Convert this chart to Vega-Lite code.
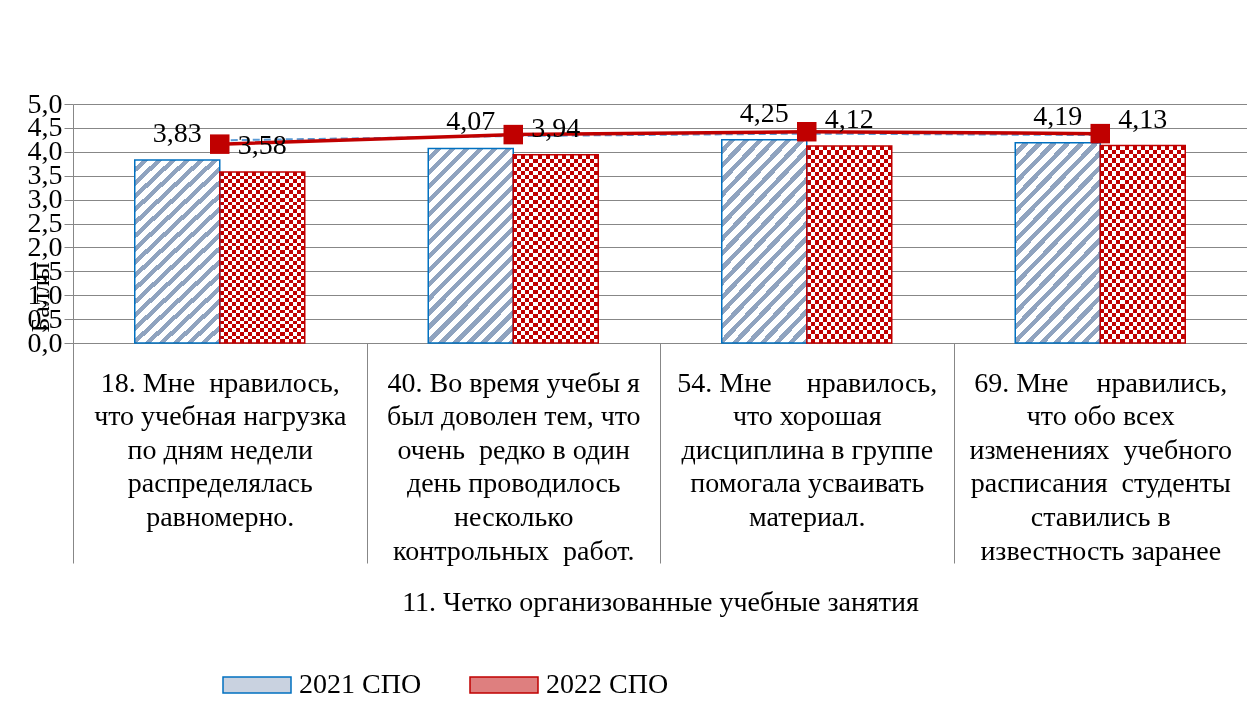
{
"$schema": "https://vega.github.io/schema/vega-lite/v6.json",
"width": 1174,
"height": 239,
"autosize": {"type": "none"},
"padding": {"left": 73, "top": 104, "right": 0, "bottom": 385},
"background": "#ffffff",
"config": {
  "locale": {"number": {"decimal": ",", "thousands": " ", "grouping": [3], "currency": ["", ""]}},
  "view": {"stroke": null},
  "font": "Liberation Serif"
},
"data": {"values": [
  {"q": "18. Мне\u00a0\u00a0нравилось,|что учебная нагрузка|по дням недели|распределялась|равномерно.", "year": "2021 СПО", "v": 3.83, "line": 4.24},
  {"q": "18. Мне\u00a0\u00a0нравилось,|что учебная нагрузка|по дням недели|распределялась|равномерно.", "year": "2022 СПО", "v": 3.58, "line": 4.16},
  {"q": "40. Во время учебы я|был доволен тем, что|очень\u00a0\u00a0редко в один|день проводилось|несколько|контрольных\u00a0\u00a0работ.", "year": "2021 СПО", "v": 4.07, "line": 4.33},
  {"q": "40. Во время учебы я|был доволен тем, что|очень\u00a0\u00a0редко в один|день проводилось|несколько|контрольных\u00a0\u00a0работ.", "year": "2022 СПО", "v": 3.94, "line": 4.36},
  {"q": "54. Мне\u00a0\u00a0\u00a0\u00a0\u00a0нравилось,|что хорошая|дисциплина в группе|помогала усваивать|материал.", "year": "2021 СПО", "v": 4.25, "line": 4.38},
  {"q": "54. Мне\u00a0\u00a0\u00a0\u00a0\u00a0нравилось,|что хорошая|дисциплина в группе|помогала усваивать|материал.", "year": "2022 СПО", "v": 4.12, "line": 4.42},
  {"q": "69. Мне\u00a0\u00a0\u00a0\u00a0нравились,|что обо всех|изменениях\u00a0\u00a0учебного|расписания\u00a0\u00a0студенты|ставились в|известность заранее", "year": "2021 СПО", "v": 4.19, "line": 4.35},
  {"q": "69. Мне\u00a0\u00a0\u00a0\u00a0нравились,|что обо всех|изменениях\u00a0\u00a0учебного|расписания\u00a0\u00a0студенты|ставились в|известность заранее", "year": "2022 СПО", "v": 4.13, "line": 4.38}
]},
"encoding": {
  "x": {
    "field": "q", "type": "nominal", "sort": null,
    "scale": {"paddingInner": 0, "paddingOuter": 0},
    "axis": {
      "title": "11. Четко организованные учебные занятия",
      "titleFont": "Liberation Serif", "titleFontSize": 28, "titleFontWeight": "normal", "titleColor": "#000000",
      "titleY": 259, "titleBaseline": "middle",
      "labelExpr": "split(datum.label, '|')",
      "labelFont": "Liberation Serif", "labelFontSize": 28, "labelColor": "#000000", "labelLineHeight": 33.6,
      "labelAngle": 0, "labelAlign": "center", "labelBaseline": "top", "labelLimit": 1000,
      "labelOverlap": false, "labelBound": false, "labelFlush": false,
      "tickBand": "extent", "tickColor": "#878787", "tickWidth": 1,
      "tickSize": 220,
      "labelPadding": -194,
      "domainColor": "#878787", "grid": false
    }
  },
  "y": {
    "field": "v", "type": "quantitative",
    "scale": {"domain": [0, 5], "nice": false},
    "axis": {
      "title": "Баллы", "values": [0, 0.5, 1, 1.5, 2, 2.5, 3, 3.5, 4, 4.5, 5], "format": ".1f",
      "labelFont": "Liberation Serif", "labelFontSize": 28, "labelColor": "#000000", "labelPadding": 2,
      "labelOverlap": false, "labelFlush": false, "labelBaseline": "middle",
      "tickSize": 9, "tickColor": "#878787", "domainColor": "#878787",
      "grid": true, "gridColor": "#878787", "gridWidth": 1,
      "titleFont": "Liberation Serif", "titleFontSize": 26, "titleFontWeight": "normal", "titleColor": "#000000",
      "titleAngle": -90, "titleX": -33, "titleY": 193, "titleAlign": "center", "titleBaseline": "middle"
    }
  }
},
"layer": [
  {
    "transform": [{"filter": "datum.year === '2021 СПО'"}],
    "mark": {"type": "bar", "strokeWidth": 0, "fill": {"gradient": "linear", "x1": 0, "y1": 0, "x2": 0.53, "y2": 1.21, "stops": [
      {"offset": 0, "color": "#ffffff"}, {"offset": 0.0275, "color": "#ffffff"}, {"offset": 0.0275, "color": "#8FA3BF"}, {"offset": 0.05, "color": "#8FA3BF"},
      {"offset": 0.05, "color": "#ffffff"}, {"offset": 0.0775, "color": "#ffffff"}, {"offset": 0.0775, "color": "#8FA3BF"}, {"offset": 0.1, "color": "#8FA3BF"},
      {"offset": 0.1, "color": "#ffffff"}, {"offset": 0.1275, "color": "#ffffff"}, {"offset": 0.1275, "color": "#8FA3BF"}, {"offset": 0.15, "color": "#8FA3BF"},
      {"offset": 0.15, "color": "#ffffff"}, {"offset": 0.1775, "color": "#ffffff"}, {"offset": 0.1775, "color": "#8FA3BF"}, {"offset": 0.2, "color": "#8FA3BF"},
      {"offset": 0.2, "color": "#ffffff"}, {"offset": 0.2275, "color": "#ffffff"}, {"offset": 0.2275, "color": "#8FA3BF"}, {"offset": 0.25, "color": "#8FA3BF"},
      {"offset": 0.25, "color": "#ffffff"}, {"offset": 0.2775, "color": "#ffffff"}, {"offset": 0.2775, "color": "#8FA3BF"}, {"offset": 0.3, "color": "#8FA3BF"},
      {"offset": 0.3, "color": "#ffffff"}, {"offset": 0.3275, "color": "#ffffff"}, {"offset": 0.3275, "color": "#8FA3BF"}, {"offset": 0.35, "color": "#8FA3BF"},
      {"offset": 0.35, "color": "#ffffff"}, {"offset": 0.3775, "color": "#ffffff"}, {"offset": 0.3775, "color": "#8FA3BF"}, {"offset": 0.4, "color": "#8FA3BF"},
      {"offset": 0.4, "color": "#ffffff"}, {"offset": 0.4275, "color": "#ffffff"}, {"offset": 0.4275, "color": "#8FA3BF"}, {"offset": 0.45, "color": "#8FA3BF"},
      {"offset": 0.45, "color": "#ffffff"}, {"offset": 0.4775, "color": "#ffffff"}, {"offset": 0.4775, "color": "#8FA3BF"}, {"offset": 0.5, "color": "#8FA3BF"},
      {"offset": 0.5, "color": "#ffffff"}, {"offset": 0.5275, "color": "#ffffff"}, {"offset": 0.5275, "color": "#8FA3BF"}, {"offset": 0.55, "color": "#8FA3BF"},
      {"offset": 0.55, "color": "#ffffff"}, {"offset": 0.5775, "color": "#ffffff"}, {"offset": 0.5775, "color": "#8FA3BF"}, {"offset": 0.6, "color": "#8FA3BF"},
      {"offset": 0.6, "color": "#ffffff"}, {"offset": 0.6275, "color": "#ffffff"}, {"offset": 0.6275, "color": "#8FA3BF"}, {"offset": 0.65, "color": "#8FA3BF"},
      {"offset": 0.65, "color": "#ffffff"}, {"offset": 0.6775, "color": "#ffffff"}, {"offset": 0.6775, "color": "#8FA3BF"}, {"offset": 0.7, "color": "#8FA3BF"},
      {"offset": 0.7, "color": "#ffffff"}, {"offset": 0.7275, "color": "#ffffff"}, {"offset": 0.7275, "color": "#8FA3BF"}, {"offset": 0.75, "color": "#8FA3BF"},
      {"offset": 0.75, "color": "#ffffff"}, {"offset": 0.7775, "color": "#ffffff"}, {"offset": 0.7775, "color": "#8FA3BF"}, {"offset": 0.8, "color": "#8FA3BF"},
      {"offset": 0.8, "color": "#ffffff"}, {"offset": 0.8275, "color": "#ffffff"}, {"offset": 0.8275, "color": "#8FA3BF"}, {"offset": 0.85, "color": "#8FA3BF"},
      {"offset": 0.85, "color": "#ffffff"}, {"offset": 0.8775, "color": "#ffffff"}, {"offset": 0.8775, "color": "#8FA3BF"}, {"offset": 0.9, "color": "#8FA3BF"},
      {"offset": 0.9, "color": "#ffffff"}, {"offset": 0.9275, "color": "#ffffff"}, {"offset": 0.9275, "color": "#8FA3BF"}, {"offset": 0.95, "color": "#8FA3BF"},
      {"offset": 0.95, "color": "#ffffff"}, {"offset": 0.9775, "color": "#ffffff"}, {"offset": 0.9775, "color": "#8FA3BF"}, {"offset": 1, "color": "#8FA3BF"}
    ]}},
    "encoding": {"xOffset": {"field": "year", "type": "nominal", "scale": {"domain": ["2021 СПО", "2022 СПО"], "paddingInner": 0, "paddingOuter": 0.7265}}}
  },
  {
    "transform": [{"filter": "datum.year === '2022 СПО'"}],
    "mark": {"type": "bar", "strokeWidth": 0, "fill": {"gradient": "linear", "x1": 0, "y1": 0, "x2": 1, "y2": 0, "stops": [
      {"offset": 0, "color": "#000000"}, {"offset": 0.047619, "color": "#000000"},
      {"offset": 0.047619, "color": "#ffffff"}, {"offset": 0.095238, "color": "#ffffff"},
      {"offset": 0.095238, "color": "#000000"}, {"offset": 0.142857, "color": "#000000"},
      {"offset": 0.142857, "color": "#ffffff"}, {"offset": 0.190476, "color": "#ffffff"},
      {"offset": 0.190476, "color": "#000000"}, {"offset": 0.238095, "color": "#000000"},
      {"offset": 0.238095, "color": "#ffffff"}, {"offset": 0.285714, "color": "#ffffff"},
      {"offset": 0.285714, "color": "#000000"}, {"offset": 0.333333, "color": "#000000"},
      {"offset": 0.333333, "color": "#ffffff"}, {"offset": 0.380952, "color": "#ffffff"},
      {"offset": 0.380952, "color": "#000000"}, {"offset": 0.428571, "color": "#000000"},
      {"offset": 0.428571, "color": "#ffffff"}, {"offset": 0.47619, "color": "#ffffff"},
      {"offset": 0.47619, "color": "#000000"}, {"offset": 0.52381, "color": "#000000"},
      {"offset": 0.52381, "color": "#ffffff"}, {"offset": 0.571429, "color": "#ffffff"},
      {"offset": 0.571429, "color": "#000000"}, {"offset": 0.619048, "color": "#000000"},
      {"offset": 0.619048, "color": "#ffffff"}, {"offset": 0.666667, "color": "#ffffff"},
      {"offset": 0.666667, "color": "#000000"}, {"offset": 0.714286, "color": "#000000"},
      {"offset": 0.714286, "color": "#ffffff"}, {"offset": 0.761905, "color": "#ffffff"},
      {"offset": 0.761905, "color": "#000000"}, {"offset": 0.809524, "color": "#000000"},
      {"offset": 0.809524, "color": "#ffffff"}, {"offset": 0.857143, "color": "#ffffff"},
      {"offset": 0.857143, "color": "#000000"}, {"offset": 0.904762, "color": "#000000"},
      {"offset": 0.904762, "color": "#ffffff"}, {"offset": 0.952381, "color": "#ffffff"},
      {"offset": 0.952381, "color": "#000000"}, {"offset": 1, "color": "#000000"}
    ]}},
    "encoding": {"xOffset": {"field": "year", "type": "nominal", "scale": {"domain": ["2021 СПО", "2022 СПО"], "paddingInner": 0, "paddingOuter": 0.7265}}}
  },
  {
    "transform": [{"filter": "datum.year === '2022 СПО'"}],
    "mark": {"type": "bar", "strokeWidth": 0, "blend": "difference", "fill": {"gradient": "linear", "x1": 0, "y1": 0, "x2": 0, "y2": 1, "stops": [
      {"offset": 0, "color": "#000000"}, {"offset": 0.021739, "color": "#000000"},
      {"offset": 0.021739, "color": "#ffffff"}, {"offset": 0.043478, "color": "#ffffff"},
      {"offset": 0.043478, "color": "#000000"}, {"offset": 0.065217, "color": "#000000"},
      {"offset": 0.065217, "color": "#ffffff"}, {"offset": 0.086957, "color": "#ffffff"},
      {"offset": 0.086957, "color": "#000000"}, {"offset": 0.108696, "color": "#000000"},
      {"offset": 0.108696, "color": "#ffffff"}, {"offset": 0.130435, "color": "#ffffff"},
      {"offset": 0.130435, "color": "#000000"}, {"offset": 0.152174, "color": "#000000"},
      {"offset": 0.152174, "color": "#ffffff"}, {"offset": 0.173913, "color": "#ffffff"},
      {"offset": 0.173913, "color": "#000000"}, {"offset": 0.195652, "color": "#000000"},
      {"offset": 0.195652, "color": "#ffffff"}, {"offset": 0.217391, "color": "#ffffff"},
      {"offset": 0.217391, "color": "#000000"}, {"offset": 0.23913, "color": "#000000"},
      {"offset": 0.23913, "color": "#ffffff"}, {"offset": 0.26087, "color": "#ffffff"},
      {"offset": 0.26087, "color": "#000000"}, {"offset": 0.282609, "color": "#000000"},
      {"offset": 0.282609, "color": "#ffffff"}, {"offset": 0.304348, "color": "#ffffff"},
      {"offset": 0.304348, "color": "#000000"}, {"offset": 0.326087, "color": "#000000"},
      {"offset": 0.326087, "color": "#ffffff"}, {"offset": 0.347826, "color": "#ffffff"},
      {"offset": 0.347826, "color": "#000000"}, {"offset": 0.369565, "color": "#000000"},
      {"offset": 0.369565, "color": "#ffffff"}, {"offset": 0.391304, "color": "#ffffff"},
      {"offset": 0.391304, "color": "#000000"}, {"offset": 0.413043, "color": "#000000"},
      {"offset": 0.413043, "color": "#ffffff"}, {"offset": 0.434783, "color": "#ffffff"},
      {"offset": 0.434783, "color": "#000000"}, {"offset": 0.456522, "color": "#000000"},
      {"offset": 0.456522, "color": "#ffffff"}, {"offset": 0.478261, "color": "#ffffff"},
      {"offset": 0.478261, "color": "#000000"}, {"offset": 0.5, "color": "#000000"},
      {"offset": 0.5, "color": "#ffffff"}, {"offset": 0.521739, "color": "#ffffff"},
      {"offset": 0.521739, "color": "#000000"}, {"offset": 0.543478, "color": "#000000"},
      {"offset": 0.543478, "color": "#ffffff"}, {"offset": 0.565217, "color": "#ffffff"},
      {"offset": 0.565217, "color": "#000000"}, {"offset": 0.586957, "color": "#000000"},
      {"offset": 0.586957, "color": "#ffffff"}, {"offset": 0.608696, "color": "#ffffff"},
      {"offset": 0.608696, "color": "#000000"}, {"offset": 0.630435, "color": "#000000"},
      {"offset": 0.630435, "color": "#ffffff"}, {"offset": 0.652174, "color": "#ffffff"},
      {"offset": 0.652174, "color": "#000000"}, {"offset": 0.673913, "color": "#000000"},
      {"offset": 0.673913, "color": "#ffffff"}, {"offset": 0.695652, "color": "#ffffff"},
      {"offset": 0.695652, "color": "#000000"}, {"offset": 0.717391, "color": "#000000"},
      {"offset": 0.717391, "color": "#ffffff"}, {"offset": 0.73913, "color": "#ffffff"},
      {"offset": 0.73913, "color": "#000000"}, {"offset": 0.76087, "color": "#000000"},
      {"offset": 0.76087, "color": "#ffffff"}, {"offset": 0.782609, "color": "#ffffff"},
      {"offset": 0.782609, "color": "#000000"}, {"offset": 0.804348, "color": "#000000"},
      {"offset": 0.804348, "color": "#ffffff"}, {"offset": 0.826087, "color": "#ffffff"},
      {"offset": 0.826087, "color": "#000000"}, {"offset": 0.847826, "color": "#000000"},
      {"offset": 0.847826, "color": "#ffffff"}, {"offset": 0.869565, "color": "#ffffff"},
      {"offset": 0.869565, "color": "#000000"}, {"offset": 0.891304, "color": "#000000"},
      {"offset": 0.891304, "color": "#ffffff"}, {"offset": 0.913043, "color": "#ffffff"},
      {"offset": 0.913043, "color": "#000000"}, {"offset": 0.934783, "color": "#000000"},
      {"offset": 0.934783, "color": "#ffffff"}, {"offset": 0.956522, "color": "#ffffff"},
      {"offset": 0.956522, "color": "#000000"}, {"offset": 0.978261, "color": "#000000"},
      {"offset": 0.978261, "color": "#ffffff"}, {"offset": 1, "color": "#ffffff"}
    ]}},
    "encoding": {"xOffset": {"field": "year", "type": "nominal", "scale": {"domain": ["2021 СПО", "2022 СПО"], "paddingInner": 0, "paddingOuter": 0.7265}}}
  },
  {
    "transform": [{"filter": "datum.year === '2022 СПО'"}],
    "mark": {"type": "bar", "strokeWidth": 0, "blend": "screen", "fill": "#C00000"},
    "encoding": {"xOffset": {"field": "year", "type": "nominal", "scale": {"domain": ["2021 СПО", "2022 СПО"], "paddingInner": 0, "paddingOuter": 0.7265}}}
  },
  {
    "mark": {"type": "bar", "fillOpacity": 0, "strokeWidth": 1.5},
    "encoding": {
      "xOffset": {"field": "year", "type": "nominal", "scale": {"domain": ["2021 СПО", "2022 СПО"], "paddingInner": 0, "paddingOuter": 0.7265}},
      "fill": {
        "field": "year", "type": "nominal",
        "scale": {"domain": ["2021 СПО", "2022 СПО"], "range": ["#C9D2E0", "#DE7F7F"]},
        "legend": {
          "title": null, "orient": "none", "legendX": 149, "legendY": 546, "direction": "horizontal",
          "symbolType": "M-1,-0.2353H1V0.2353H-1Z", "symbolSize": 4624, "symbolStrokeWidth": 1.5, "symbolOpacity": 1,
          "labelFont": "Liberation Serif", "labelFontSize": 28, "labelColor": "#000000", "labelOffset": 7,
          "columnPadding": 45, "padding": 0, "offset": 0
        }
      },
      "stroke": {
        "field": "year", "type": "nominal",
        "scale": {"domain": ["2021 СПО", "2022 СПО"], "range": ["#0070C0", "#C00000"]},
        "legend": {
          "title": null, "orient": "none", "legendX": 149, "legendY": 546, "direction": "horizontal",
          "symbolType": "M-1,-0.2353H1V0.2353H-1Z", "symbolSize": 4624, "symbolStrokeWidth": 1.5, "symbolOpacity": 1,
          "labelFont": "Liberation Serif", "labelFontSize": 28, "labelColor": "#000000", "labelOffset": 7,
          "columnPadding": 45, "padding": 0, "offset": 0
        }
      }
    }
  },
  {
    "transform": [{"filter": "datum.year === '2021 СПО'"}],
    "mark": {"type": "line", "color": "#5B9BD5", "strokeWidth": 2, "strokeDash": [7, 4]},
    "encoding": {"y": {"field": "line", "type": "quantitative", "scale": {"domain": [0, 5], "nice": false}, "title": "Баллы"}}
  },
  {
    "transform": [{"filter": "datum.year === '2022 СПО'"}],
    "mark": {"type": "line", "color": "#C00000", "strokeWidth": 3.5},
    "encoding": {"y": {"field": "line", "type": "quantitative", "scale": {"domain": [0, 5], "nice": false}, "title": "Баллы"}}
  },
  {
    "transform": [{"filter": "datum.year === '2022 СПО'"}],
    "mark": {"type": "point", "shape": "square", "filled": true, "size": 380, "color": "#C00000", "opacity": 1, "strokeWidth": 0},
    "encoding": {"y": {"field": "line", "type": "quantitative", "scale": {"domain": [0, 5], "nice": false}, "title": "Баллы"}}
  },
  {
    "mark": {"type": "text", "font": "Liberation Serif", "fontSize": 28, "color": "#000000", "baseline": "alphabetic", "dy": -18},
    "encoding": {
      "xOffset": {"field": "year", "type": "nominal", "scale": {"domain": ["2021 СПО", "2022 СПО"], "paddingInner": 0, "paddingOuter": 0.7265}},
      "text": {"field": "v", "type": "quantitative", "format": ".2f"}
    }
  }
]
}
